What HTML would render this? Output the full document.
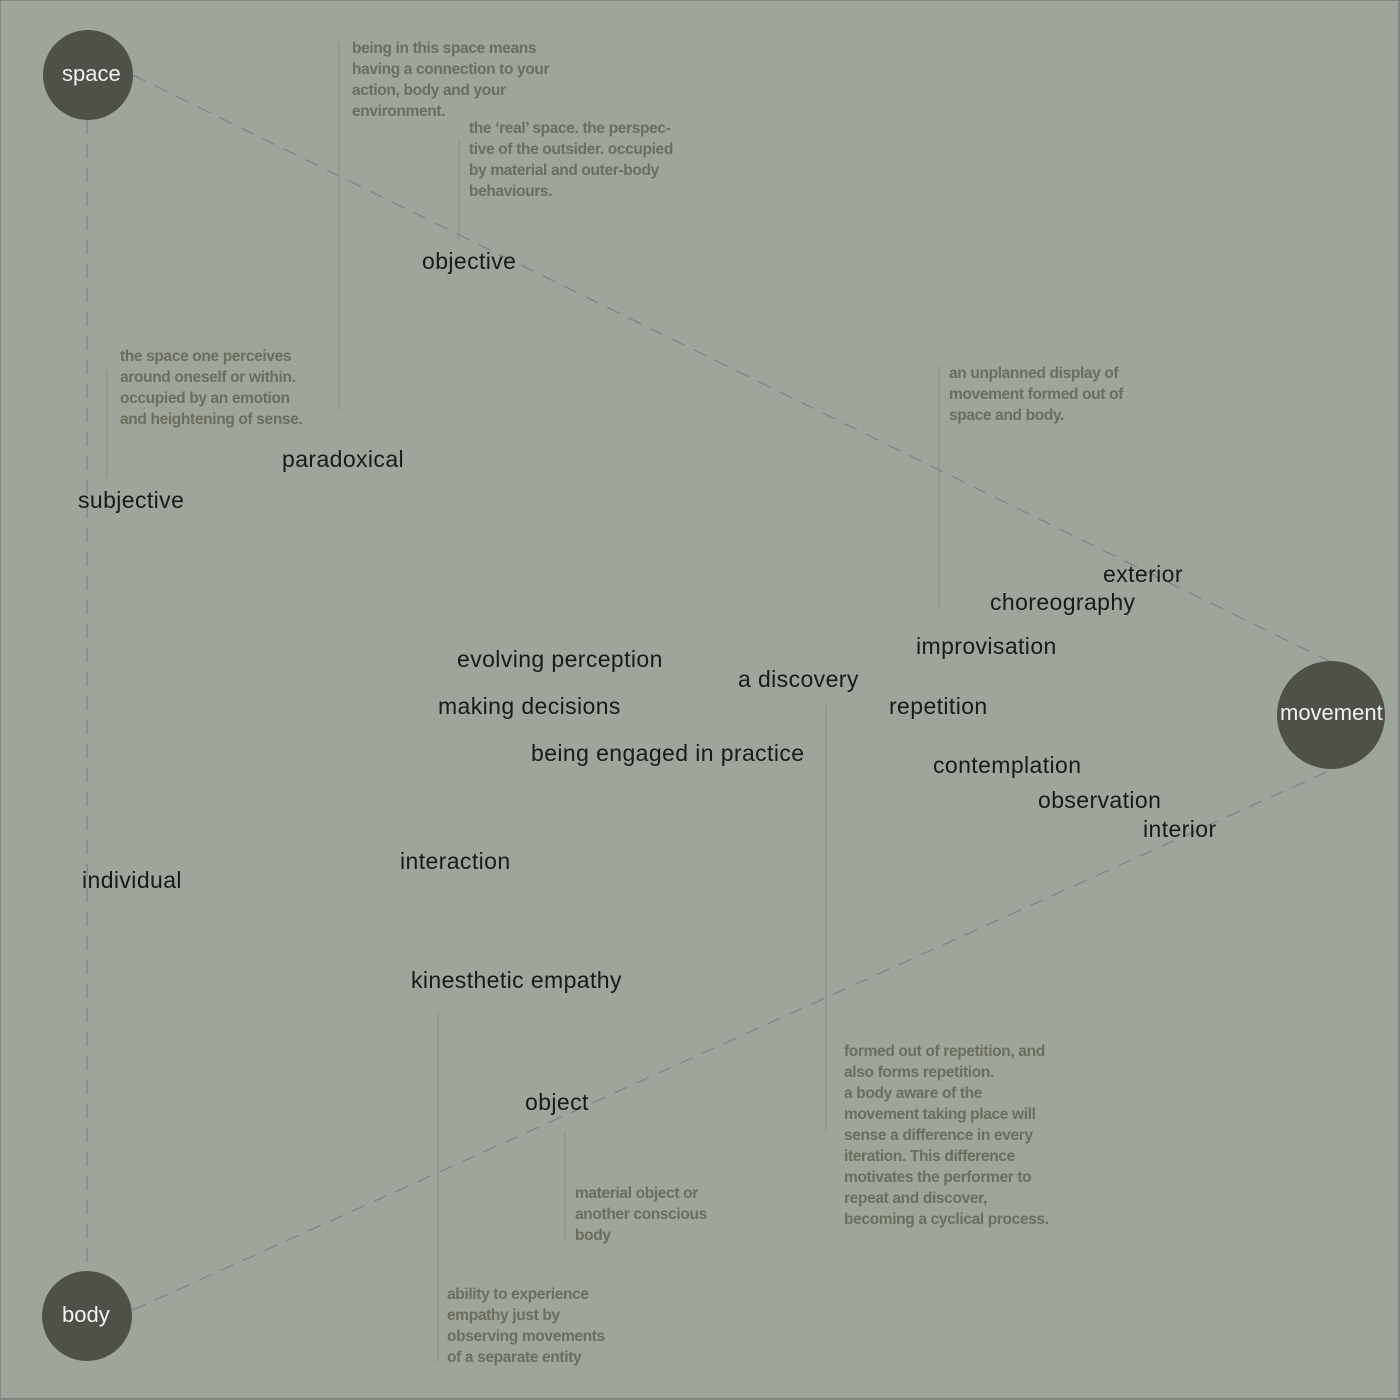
<!DOCTYPE html>
<html><head><meta charset="utf-8"><style>
html,body{margin:0;padding:0;background:#9ea59b}
svg{display:block}
.l{font-family:"Liberation Sans",sans-serif;font-size:23px;fill:#1a1a18;letter-spacing:0.4px}
.a{font-family:"Liberation Sans",sans-serif;font-size:15.5px;font-weight:bold;fill:#6b6e5c;letter-spacing:-0.35px}
.w{font-family:"Liberation Sans",sans-serif;font-size:22px;fill:#f2f2ee}
</style></head><body>
<svg width="1400" height="1400" viewBox="0 0 1400 1400" xmlns="http://www.w3.org/2000/svg">
<rect x="0" y="0" width="1400" height="1400" fill="#9ea59b"/>
<rect x="0" y="0" width="1399" height="1399" fill="none" stroke="#7a7e78" stroke-width="1.5"/>
<g stroke="#80848a" stroke-width="1.3" stroke-dasharray="14,10" fill="none">
<line x1="133" y1="75" x2="1331" y2="662"/>
<line x1="133" y1="1310" x2="1331" y2="770"/>
<line x1="87" y1="120" x2="87" y2="1272"/>
</g>
<g stroke="#8a8e86" stroke-width="1" fill="none">
<line x1="339" y1="42" x2="339" y2="410"/>
<line x1="459" y1="140" x2="459" y2="240"/>
<line x1="107" y1="370" x2="107" y2="478"/>
<line x1="939" y1="366" x2="939" y2="608"/>
<line x1="826" y1="705" x2="826" y2="1132"/>
<line x1="438" y1="1013" x2="438" y2="1362"/>
<line x1="565" y1="1132" x2="565" y2="1240"/>
</g>
<circle cx="88" cy="75" r="45" fill="#4f5048"/>
<circle cx="1331" cy="715" r="54" fill="#4f5048"/>
<circle cx="87" cy="1316" r="45" fill="#4f5048"/>
<text class="w" x="62" y="81">space</text>
<text class="w" x="1280" y="720">movement</text>
<text class="w" x="62" y="1322">body</text>

<text class="l" x="422" y="269">objective</text>
<text class="l" x="282" y="467">paradoxical</text>
<text class="l" x="78" y="508">subjective</text>
<text class="l" x="1103" y="582">exterior</text>
<text class="l" x="990" y="610">choreography</text>
<text class="l" x="916" y="654">improvisation</text>
<text class="l" x="457" y="667">evolving perception</text>
<text class="l" x="738" y="687">a discovery</text>
<text class="l" x="438" y="714">making decisions</text>
<text class="l" x="889" y="714">repetition</text>
<text class="l" x="531" y="761">being engaged in practice</text>
<text class="l" x="933" y="773">contemplation</text>
<text class="l" x="1038" y="808">observation</text>
<text class="l" x="1143" y="837">interior</text>
<text class="l" x="400" y="869">interaction</text>
<text class="l" x="82" y="888">individual</text>
<text class="l" x="411" y="988">kinesthetic empathy</text>
<text class="l" x="525" y="1110">object</text>

<g class="a">
<text x="352" y="53">being in this space means</text>
<text x="352" y="74">having a connection to your</text>
<text x="352" y="95">action, body and your</text>
<text x="352" y="116">environment.</text>
<text x="469" y="133">the ‘real’ space. the perspec-</text>
<text x="469" y="154">tive of the outsider. occupied</text>
<text x="469" y="175">by material and outer-body</text>
<text x="469" y="196">behaviours.</text>
<text x="120" y="361">the space one perceives</text>
<text x="120" y="382">around oneself or within.</text>
<text x="120" y="403">occupied by an emotion</text>
<text x="120" y="424">and heightening of sense.</text>
<text x="949" y="378">an unplanned display of</text>
<text x="949" y="399">movement formed out of</text>
<text x="949" y="420">space and body.</text>
<text x="844" y="1056">formed out of repetition, and</text>
<text x="844" y="1077">also forms repetition.</text>
<text x="844" y="1098">a body aware of the</text>
<text x="844" y="1119">movement taking place will</text>
<text x="844" y="1140">sense a difference in every</text>
<text x="844" y="1161">iteration. This difference</text>
<text x="844" y="1182">motivates the performer to</text>
<text x="844" y="1203">repeat and discover,</text>
<text x="844" y="1224">becoming a cyclical process.</text>
<text x="575" y="1198">material object or</text>
<text x="575" y="1219">another conscious</text>
<text x="575" y="1240">body</text>
<text x="447" y="1299">ability to experience</text>
<text x="447" y="1320">empathy just by</text>
<text x="447" y="1341">observing movements</text>
<text x="447" y="1362">of a separate entity</text>
</g>
</svg>
</body></html>
